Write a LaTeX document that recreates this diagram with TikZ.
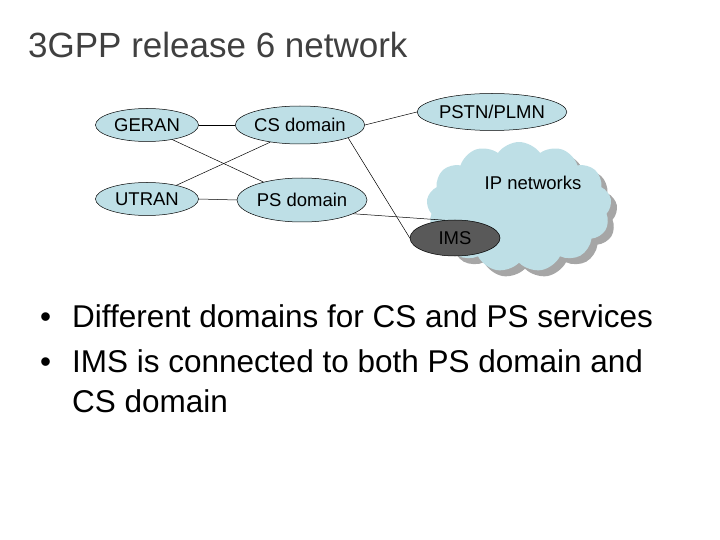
\documentclass[tikz,border=0pt]{standalone}
\usepackage{fontspec}
\setmainfont{Liberation Sans}
\usetikzlibrary{shapes.geometric,shapes.symbols}
\definecolor{lb}{HTML}{BEDFE6}
\tikzset{el/.style={ellipse,draw=black,line width=0.5pt,fill=lb,inner sep=0pt,font=\fontsize{18.5}{20}\selectfont},
ln/.style={line width=0.5pt},
bt/.style={anchor=base west,font=\fontsize{31.5}{36}\selectfont}}
\begin{document}
\begin{tikzpicture}[x=1pt,y=-1pt]
\useasboundingbox (0,0) rectangle (720,540);
\node[anchor=base west,font=\fontsize{35}{40}\selectfont,text=black!75,inner sep=0pt] (title) at (28,58) {3GPP release 6 network};
\node[cloud,cloud puffs=13,cloud puff arc=110,aspect=1.4,minimum width=185,minimum height=130,fill=gray!70] (cs) at (525,213) {};
\node[cloud,cloud puffs=13,cloud puff arc=110,aspect=1.4,minimum width=185,minimum height=130,fill=lb] (cloud) at (519,207) {};
\node[font=\fontsize{18.5}{20}\selectfont] (ipn) at (533,183) {IP networks};
\node[el,minimum width=103,minimum height=33] (geran) at (147,125) {GERAN};
\node[el,minimum width=103,minimum height=33] (utran) at (147,199) {UTRAN};
\node[el,minimum width=126,minimum height=38] (csd) at (300,125) {CS domain};
\node[el,minimum width=130,minimum height=44] (psd) at (302,200) {PS domain};
\node[el,minimum width=133,minimum height=37] (pstn) at (492,112) {PSTN/PLMN};
\node[el,fill=gray!70!black,minimum width=90,minimum height=36] (ims) at (455,238) {IMS};
\draw[ln] (geran.east) -- (csd.west);
\draw[ln] (utran.east) -- (psd.west);
\draw[ln] (geran.-30) -- (psd.155);
\draw[ln] (utran.25) -- (csd.-150);
\draw[ln] (csd.east) -- (pstn.west);
\draw[ln] (csd.-15) -- (ims.west);
\draw[ln] (psd.-15) -- (ims.120);
\node[bt,inner sep=0pt] (b1) at (40,327) {•};
\node[bt,inner sep=0pt] (t1) at (72,327) {Different domains for CS and PS services};
\node[bt,inner sep=0pt] (b2) at (40,372) {•};
\node[bt,inner sep=0pt] (t2) at (72,372) {IMS is connected to both PS domain and};
\node[bt,inner sep=0pt] (t3) at (72,412) {CS domain};
\end{tikzpicture}
\end{document}
